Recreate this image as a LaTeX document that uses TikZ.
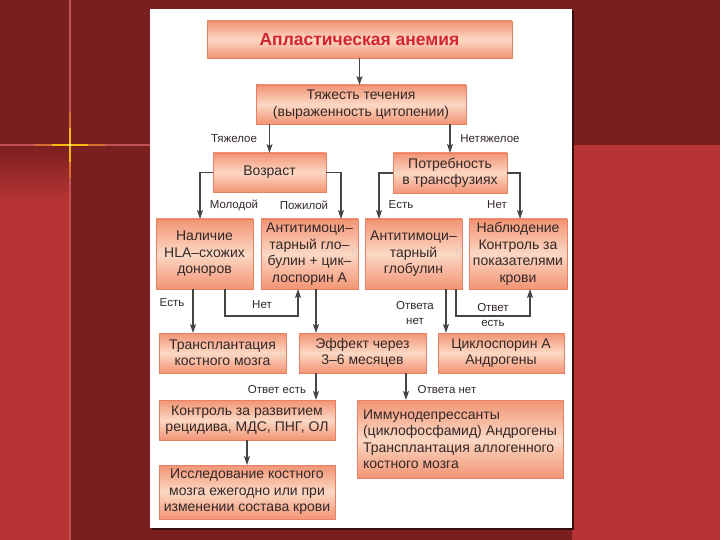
\documentclass[tikz,border=0pt]{standalone}
\usepackage{fontspec}
\setmainfont{Liberation Sans}
\usetikzlibrary{arrows.meta,positioning,calc}
\definecolor{slidedark}{RGB}{122,31,31}
\definecolor{slidelight}{RGB}{184,52,52}
\definecolor{boxedge}{RGB}{232,128,100}
\definecolor{boxdeep}{RGB}{242,148,116}
\definecolor{boxpale}{RGB}{252,216,196}
\definecolor{inkgray}{RGB}{50,40,40}
\definecolor{titlered}{RGB}{212,36,48}
\definecolor{wiregray}{RGB}{72,68,68}

\begin{document}
\begin{tikzpicture}[x=1pt,y=-1pt,
blk/.style={draw=boxedge,line width=0.6pt,top color=boxdeep,bottom color=boxdeep,middle color=boxpale,
  inner sep=0pt,outer sep=0pt,align=center,text=inkgray,font=\fontsize{14}{16.5}\selectfont},
rowthree/.style={blk,minimum width=97pt,minimum height=70pt},
rowfour/.style={blk,minimum width=127pt,minimum height=40pt},
lbl/.style={align=center,text=inkgray,inner sep=0pt,font=\fontsize{11.5}{15}\selectfont},
arr/.style={-{Stealth[length=9pt,width=6pt,inset=2pt]},line width=1.3pt,wiregray}
]
% slide background
\useasboundingbox (0,0) rectangle (720,540);
\fill[slidedark] (0,0) rectangle (720,540);
\fill[slidelight] (572,145) rectangle (720,540);
\shade[top color=slidedark,bottom color=slidelight] (0,145) rectangle (70,200);
\fill[slidelight] (0,200) rectangle (70,540);
\draw[line width=1.2pt,slidelight!85!white] (70,0) -- (70,540);
\draw[line width=1.2pt,slidelight!85!white] (0,145) -- (150,145);
\draw[line width=1.4pt,orange!70!yellow,opacity=0.35] (35,145) -- (105,145) (70,112) -- (70,178);
\draw[line width=1.2pt,yellow!60!orange,opacity=0.85] (52,145) -- (88,145) (70,128) -- (70,162);
\fill[yellow!40!white] (70,145) circle (1.4);
% white panel
\fill[black!55!slidedark] (152,11) rectangle (574,530);
\fill[white] (150,9) rectangle (572,528);

% boxes
\node[blk,minimum width=305pt,minimum height=37pt,text=titlered,font=\fontsize{17.5}{20}\selectfont\bfseries] (title) at (359.5,39.5) {Апластическая анемия};
\node[blk,minimum width=210pt,minimum height=39pt] (sev) at (361,104.5) {Тяжесть течения\\(выраженность цитопении)};
\node[blk,minimum width=113pt,minimum height=39pt] (age) at (269.5,172.5) {Возраст};
\node[blk,minimum width=114pt,minimum height=40pt] (need) at (450,173) {Потребность\\в трансфузиях};
\node[rowthree] (hla) at (204.5,254) {Наличие\\HLA–схожих\\доноров};
\node[rowthree] (atgc) at (309.5,254) {Антитимоци–\\тарный гло–\\булин + цик–\\лоспорин А};
\node[rowthree] (atg) at (413.5,254) {Антитимоци–\\тарный\\глобулин};
\node[rowthree,minimum width=98pt] (obs) at (518,254) {Наблюдение\\Контроль за\\показателями\\крови};
\node[rowfour] (bmt) at (222.5,353) {Трансплантация\\костного мозга};
\node[rowfour] (eff) at (362.5,353) {Эффект через\\3–6 месяцев};
\node[rowfour,minimum width=126pt] (csa) at (501,353) {Циклоспорин А\\Андрогены};
\node[blk,minimum width=176pt,minimum height=40pt] (ctrl) at (247,420) {Контроль за развитием\\рецидива, МДС, ПНГ, ОЛ};
\node[blk,minimum width=206pt,minimum height=78pt,align=left] (imm) at (460,439) {Иммунодепрессанты\\(циклофосфамид) Андрогены\\Трансплантация аллогенного\\костного мозга};
\node[blk,minimum width=176pt,minimum height=54pt] (stud) at (247,492) {Исследование костного\\мозга ежегодно или при\\изменении состава крови};

% branch labels
\node[lbl] (lsev) at (234,139) {Тяжелое};
\node[lbl] (lmild) at (490,139) {Нетяжелое};
\node[lbl] (lyoung) at (234,205) {Молодой};
\node[lbl] (lold) at (304,205) {Пожилой};
\node[lbl] (lyes) at (401,205) {Есть};
\node[lbl] (lno) at (497,205) {Нет};
\node[lbl] (ldon) at (172,303) {Есть};
\node[lbl] (lnodon) at (262,305) {Нет};
\node[lbl] (lnoresp) at (415,313) {Ответа\\нет};
\node[lbl] (lresp) at (493,315) {Ответ\\есть};
\node[lbl] (lresp2) at (277,390) {Ответ есть};
\node[lbl] (lnoresp2) at (447,390) {Ответа нет};

% connectors
\draw[arr] (title.south) -- (title.south |- sev.north);
\draw[arr] (age.north |- sev.south) -- (age.north);
\draw[arr] (need.north |- sev.south) -- (need.north);
\draw[arr] (age.west) -| ([xshift=-4.5pt]hla.north);
\draw[arr] (age.east) -| ([xshift=31.5pt]atgc.north);
\draw[arr] (need.west) -| ([xshift=-34.5pt]atg.north);
\draw[arr] (need.east) -| ([xshift=2pt]obs.north);
\draw[arr] ([xshift=-11.5pt]hla.south) -- ([xshift=-11.5pt]hla.south |- bmt.north);
\draw[arr] ([xshift=20.5pt]hla.south) -- ++(0,27) -| ([xshift=-11.5pt]atgc.south);
\draw[arr] ([xshift=6.5pt]atgc.south) -- ([xshift=6.5pt]atgc.south |- eff.north);
\draw[arr] ([xshift=32.5pt]atg.south) -- ([xshift=32.5pt]atg.south |- csa.north);
\draw[arr] ([xshift=42.5pt]atg.south) -- ++(0,27) -| ([xshift=12pt]obs.south);
\draw[arr] ([xshift=-46.5pt]eff.south) -- ([xshift=-46.5pt]eff.south |- ctrl.north);
\draw[arr] ([xshift=43.5pt]eff.south) -- ([xshift=43.5pt]eff.south |- imm.north);
\draw[arr] (ctrl.south) -- (stud.north);
\end{tikzpicture}
\end{document}
